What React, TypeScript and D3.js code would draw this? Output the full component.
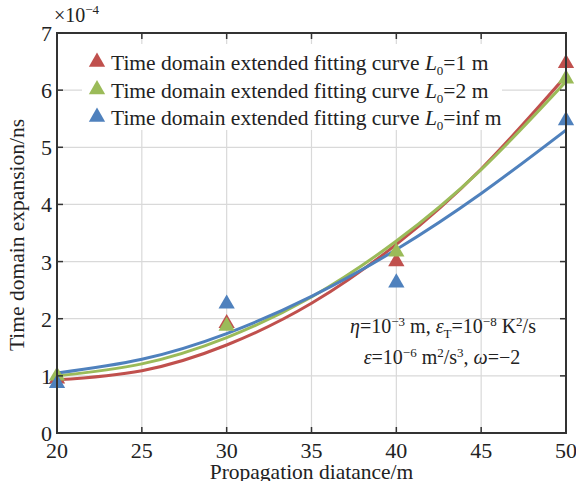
import React from "react";
import * as d3 from "d3";

const xTicks = [20, 25, 30, 35, 40, 45, 50];
const yTicks = [0, 1, 2, 3, 4, 5, 6, 7];

const pointX = [20, 30, 40, 50];
const pointsL1 = [0.95, 1.92, 3.0, 6.47];
const pointsL2 = [1.0, 1.87, 3.17, 6.2];
const pointsInf = [0.87, 2.26, 2.63, 5.47];

const curveX = [20, 25, 30, 35, 40, 45, 50];
const curveL1 = [0.93, 1.09, 1.54, 2.27, 3.3, 4.62, 6.25];
const curveL2 = [1.0, 1.21, 1.67, 2.38, 3.36, 4.61, 6.15];
const curveInf = [1.05, 1.29, 1.74, 2.39, 3.21, 4.19, 5.3];

const labels = ["1", "2", "inf"];
const colors = ["#C0504D", "#9BBB59", "#4F81BD"];

const W = 576;
const H = 481;
const left = 57;
const right = 566;
const top = 33;
const bottom = 433;

export default function App() {
  const x = d3.scaleLinear().domain([20, 50]).range([left, right]);
  const y = d3.scaleLinear().domain([0, 7]).range([bottom, top]);
  const line = d3
    .line<number>()
    .x((_, i) => x(curveX[i]))
    .y((d) => y(d))
    .curve(d3.curveNatural);
  const curves = [curveL1, curveL2, curveInf];
  const points = [pointsL1, pointsL2, pointsInf];
  const tri = d3.symbol().type(d3.symbolTriangle).size(115)()!;
  const font = "'Liberation Serif', 'Times New Roman', serif";
  const axisColor = "#333";
  const txt = "#222";

  return (
    <svg
      width={W}
      height={H}
      style={{ position: "absolute", left: 0, top: 0, fontFamily: font }}
    >
      <rect x={0} y={0} width={W} height={H} fill="#fff" />
      <defs>
        <clipPath id="clip">
          <rect x={left} y={top} width={right - left} height={bottom - top} />
        </clipPath>
      </defs>
      {/* grid */}
      {xTicks.map((t) => (
        <line key={"gx" + t} x1={x(t)} x2={x(t)} y1={top} y2={bottom} stroke="#d9d9d9" strokeWidth={1.2} />
      ))}
      {yTicks.map((t) => (
        <line key={"gy" + t} x1={left} x2={right} y1={y(t)} y2={y(t)} stroke="#d9d9d9" strokeWidth={1.2} />
      ))}
      {/* curves */}
      <g clipPath="url(#clip)">
        {curves.map((c, i) => (
          <path key={"c" + i} d={line(c)!} fill="none" stroke={colors[i]} strokeWidth={3} />
        ))}
      </g>
      {/* points */}
      {points.map((p, i) =>
        p.map((v, j) => (
          <path
            key={"p" + i + "-" + j}
            d={tri}
            transform={`translate(${x(pointX[j])},${y(v)})`}
            fill={colors[i]}
          />
        ))
      )}
      {/* legend */}
      <rect x={82} y={44} width={420} height={86} fill="#fff" />
      {labels.map((l, i) => {
        const cy = 62 + i * 27.5;
        return (
          <g key={"lg" + i}>
            <path d={tri} transform={`translate(97,${cy})`} fill={colors[i]} />
            <text x={111} y={cy + 8} fontSize={21.5} fill={txt}>
              Time domain extended fitting curve <tspan fontStyle="italic">L</tspan>
              <tspan fontSize={13} dy={5}>0</tspan>
              <tspan dy={-5}>={l} m</tspan>
            </text>
          </g>
        );
      })}
      {/* axes box */}
      <rect x={left} y={top} width={right - left} height={bottom - top} fill="none" stroke={axisColor} strokeWidth={2} />
      {xTicks.map((t) => (
        <g key={"tx" + t}>
          <line x1={x(t)} x2={x(t)} y1={bottom} y2={bottom - 6} stroke={axisColor} strokeWidth={1.5} />
          <line x1={x(t)} x2={x(t)} y1={top} y2={top + 6} stroke={axisColor} strokeWidth={1.5} />
          <text x={x(t)} y={bottom + 25} textAnchor="middle" fontSize={22} fill={txt}>
            {t}
          </text>
        </g>
      ))}
      {yTicks.map((t) => (
        <g key={"ty" + t}>
          <line x1={left} x2={left + 6} y1={y(t)} y2={y(t)} stroke={axisColor} strokeWidth={1.5} />
          <line x1={right} x2={right - 6} y1={y(t)} y2={y(t)} stroke={axisColor} strokeWidth={1.5} />
          <text x={left - 5} y={y(t) + 8} textAnchor="end" fontSize={22} fill={txt}>
            {t}
          </text>
        </g>
      ))}
      {/* exponent */}
      <text x={54} y={22} fontSize={20} fill={txt}>
        ×10<tspan fontSize={13} dy={-8}>−4</tspan>
      </text>
      {/* axis labels */}
      <text
        transform={`translate(24,${(top + bottom) / 2 + 2}) rotate(-90)`}
        textAnchor="middle"
        fontSize={21.5}
        fill={txt}
      >
        Time domain expansion/ns
      </text>
      <text x={(left + right) / 2} y={479} textAnchor="middle" fontSize={21.5} fill={txt}>
        Propagation diatance/m
      </text>
      {/* annotation */}
      <text x={443} y={333} textAnchor="middle" fontSize={20} fill={txt}>
        <tspan fontStyle="italic">η</tspan>=10<tspan fontSize={13} dy={-7}>−3</tspan>
        <tspan dy={7}> m, </tspan>
        <tspan fontStyle="italic">ε</tspan>
        <tspan fontSize={13} dy={5}>T</tspan>
        <tspan dy={-5}>=10</tspan>
        <tspan fontSize={13} dy={-7}>−8</tspan>
        <tspan dy={7}> K</tspan>
        <tspan fontSize={13} dy={-7}>2</tspan>
        <tspan dy={7}>/s</tspan>
      </text>
      <text x={442} y={364} textAnchor="middle" fontSize={20} fill={txt}>
        <tspan fontStyle="italic">ε</tspan>=10<tspan fontSize={13} dy={-7}>−6</tspan>
        <tspan dy={7}> m</tspan>
        <tspan fontSize={13} dy={-7}>2</tspan>
        <tspan dy={7}>/s</tspan>
        <tspan fontSize={13} dy={-7}>3</tspan>
        <tspan dy={7}>, </tspan>
        <tspan fontStyle="italic">ω</tspan>=−2
      </text>
    </svg>
  );
}
